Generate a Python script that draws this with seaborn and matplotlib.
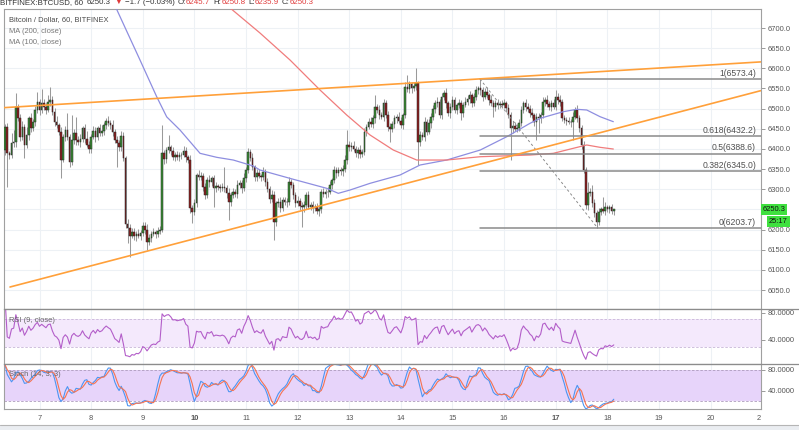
import numpy as np
import pandas as pd
import matplotlib
matplotlib.use("Agg")
import matplotlib.pyplot as plt
import matplotlib.transforms as mtransforms
from matplotlib.lines import Line2D
from matplotlib.patches import Rectangle
import seaborn as sns

# ---------------- data ----------------
start_hour = -16            # first candle, hours from day 7 00:00
first_open = 6397
closes = [
    6455, 6390, 6385, 6415, 6418, 6505, 6476, 6430, 6455, 6410, 6435, 6476, 6451, 6467, 6497, 6517,
    6497, 6513, 6505, 6497, 6517, 6521, 6492, 6468, 6460, 6443, 6373, 6430, 6447, 6430, 6368, 6422, 6440, 6422, 6416, 6425,
    6451, 6425, 6411, 6399, 6430, 6445, 6430, 6451, 6440, 6445, 6459, 6470, 6464, 6459, 6443, 6422, 6414, 6404, 6432, 6377,
    6215, 6205, 6185, 6195, 6183, 6190, 6185, 6192, 6210, 6200, 6170, 6180, 6190, 6193, 6190, 6197, 6200, 6389, 6375, 6397,
    6404, 6395, 6381, 6384, 6380, 6384, 6386, 6395, 6379, 6373, 6253, 6244, 6265, 6335, 6330, 6333, 6306, 6286, 6323, 6318,
    6327, 6302, 6307, 6305, 6303, 6306, 6302, 6290, 6269, 6286, 6292, 6289, 6311, 6315, 6302, 6327, 6348, 6393, 6378, 6354,
    6331, 6340, 6333, 6330, 6344, 6319, 6300, 6277, 6286, 6219, 6265, 6269, 6253, 6273, 6269, 6268, 6319, 6310, 6286, 6265,
    6272, 6258, 6255, 6262, 6286, 6257, 6260, 6253, 6257, 6246, 6250, 6294, 6288, 6292, 6294, 6311, 6323, 6348, 6340, 6348,
    6345, 6350, 6373, 6410, 6405, 6408, 6400, 6389, 6397, 6387, 6393, 6443, 6455, 6468, 6462, 6476, 6505, 6497, 6484, 6480,
    6514, 6484, 6455, 6450, 6462, 6476, 6480, 6470, 6460, 6484, 6554, 6548, 6560, 6550, 6555, 6563, 6418, 6435, 6430, 6468,
    6443, 6464, 6480, 6500, 6513, 6517, 6484, 6530, 6538, 6513, 6488, 6505, 6521, 6497, 6509, 6513, 6488, 6509, 6517, 6525,
    6534, 6513, 6530, 6546, 6550, 6545, 6530, 6542, 6534, 6521, 6513, 6505, 6514, 6508, 6512, 6510, 6514, 6502, 6484, 6452,
    6458, 6450, 6452, 6464, 6497, 6513, 6505, 6500, 6490, 6484, 6468, 6480, 6476, 6484, 6517, 6521, 6512, 6505, 6513, 6505,
    6530, 6522, 6517, 6476, 6472, 6470, 6468, 6466, 6480, 6497, 6476, 6451, 6410, 6348, 6261, 6290, 6294, 6265, 6240, 6219,
    6244, 6250, 6246, 6257, 6250, 6255, 6245.7, 6250.3,
]
up_wick = [
    8, 10, 6, 25, 30, 12, 6, 10, 14, 8, 20, 6, 12, 8, 10, 15, 6, 8, 12, 10,
    18, 6, 10, 9, 14, 5, 12, 8, 10, 15, 8, 6, 10, 25, 9, 12, 7, 10, 20, 8,
    6, 12, 9, 7, 10, 14, 8, 6, 11, 9, 12, 7, 10, 8, 13, 9, 6, 11, 8, 10,
    9, 7, 12, 6, 10, 8, 14, 9, 7, 11, 6, 10, 8, 12, 9, 7, 10, 6, 11, 8,
    10, 8, 6, 12, 9, 7, 11, 8, 10, 6, 13, 9, 7, 10, 8, 12, 6, 9, 11, 7,
    8, 10, 7, 9, 12, 6, 10, 8, 11, 7, 9, 13, 6, 10, 8, 12, 7, 9, 10, 6,
    11, 7, 9, 8, 12, 10, 6, 9, 11, 8, 7, 10, 12, 6, 9, 8, 11, 7, 10, 9,
    7, 10, 8, 12, 6, 9, 11, 7, 10, 8, 12, 9, 6, 10, 7, 11, 8, 9, 12, 6,
    10, 8, 11, 7, 9, 12, 6, 10, 8, 9, 11, 7, 10, 6, 12, 8, 9, 7, 11, 10,
    8, 9, 7, 12, 10, 6, 11, 8, 9, 7, 10, 12, 6, 9, 8, 11, 7, 10, 8, 9,
    9, 11, 6, 10, 8, 12, 7, 9, 10, 8, 6, 11, 9, 7, 12, 8, 10, 6, 9, 11,
    7, 10, 9, 8, 11, 6, 12, 9, 7, 10, 8, 9, 11, 6, 10, 7, 12, 8, 9, 10,
    10, 7, 12, 8, 9, 11, 6, 10, 8, 7, 11, 9, 12, 6, 8, 10, 7, 9, 11, 8,
    9, 8, 10, 7, 12, 6, 11, 9, 8, 10, 7, 12, 9, 6, 11, 8, 10, 7, 9, 12,
    4, 6, 8, 5,
]
down_wick = [
    12, 8, 10, 7, 9, 14, 6, 11, 8, 10, 7, 13, 9, 6, 10, 8, 12, 7, 9, 11,
    6, 10, 8, 12, 7, 9, 11, 6, 10, 8, 13, 7, 9, 12, 6, 10, 8, 11, 7, 9,
    10, 6, 12, 8, 9, 7, 11, 10, 6, 9, 12, 8, 7, 10, 9, 6, 11, 8, 12, 7,
    9, 11, 7, 10, 8, 12, 6, 9, 11, 7, 10, 8, 9, 6, 12, 10, 7, 9, 8, 11,
    7, 9, 10, 6, 11, 8, 12, 7, 9, 10, 6, 8, 11, 9, 7, 12, 10, 6, 9, 8,
    11, 7, 9, 12, 6, 10, 8, 9, 11, 7, 12, 6, 10, 8, 9, 7, 11, 10, 6, 9,
    8, 12, 7, 10, 9, 6, 11, 8, 10, 7, 9, 12, 6, 8, 11, 10, 7, 9, 8, 12,
    10, 6, 9, 11, 7, 8, 12, 10, 6, 9, 11, 7, 10, 8, 12, 6, 9, 11, 7, 10,
    9, 11, 6, 8, 12, 10, 7, 9, 11, 6, 8, 10, 12, 7, 9, 6, 11, 8, 10, 9,
    7, 10, 12, 6, 9, 11, 8, 7, 10, 12, 6, 9, 8, 11, 7, 10, 9, 6, 12, 8,
    11, 8, 7, 10, 9, 12, 6, 11, 8, 9, 10, 7, 12, 8, 6, 9, 11, 10, 7, 8,
    9, 12, 10, 6, 8, 11, 7, 9, 12, 10, 6, 8, 9, 11, 7, 10, 12, 6, 9, 8,
    6, 9, 11, 8, 10, 7, 12, 6, 9, 11, 8, 10, 7, 9, 12, 6, 8, 11, 10, 7,
    8, 10, 7, 12, 9, 6, 10, 8, 11, 7, 9, 12, 6, 10, 8, 11, 7, 9, 6, 10,
    7, 9, 6, 8,
]
high_marks = {-11: 6538, -1: 6542, 1: 6549, 5: 6554, 13: 6489, 15: 6484, 17: 6480, 57: 6459,
              60: 6435, 86: 6356, 97: 6402, 139: 6356, 143: 6447, 156: 6534, 171: 6583,
              175: 6600, 205: 6573.4, 240: 6546, 255: 6319, 257: 6310, 262: 6282, 267: 6250.8}
low_marks = {-15: 6306, -7: 6377, 10: 6327, 36: 6356, 41: 6167, 42: 6133, 50: 6150, 71: 6216,
             81: 6257, 88: 6224, 109: 6174, 122: 6207, 163: 6418, 176: 6360, 196: 6472,
             211: 6480, 219: 6373, 231: 6422, 232: 6440, 248: 6422, 259: 6203.7, 267: 6235.9}

ma100_day = [8.424, 8.501, 8.947, 9.270, 9.464, 9.722, 10.110, 10.433, 10.754, 11.142, 11.271,
             11.917, 12.564, 12.788, 13.015, 13.403, 13.984, 14.371, 14.888, 15.538, 16.051,
             16.502, 16.696, 17.147, 17.407, 17.601, 17.859, 18.116]
ma100_val = [6769.5, 6744.6, 6620.6, 6529.6, 6479.6, 6446.9, 6389.1, 6379.2, 6372.5, 6357.6, 6347.7,
             6324.7, 6302.3, 6289.9, 6298.1, 6314.7, 6335.3, 6360.1, 6372.5, 6397.3, 6430.3,
             6463.6, 6475.9, 6492.4, 6498.3, 6496.6, 6480.0, 6467.6]
ma200_day = [10.497, 10.723, 11.271, 11.853, 12.434, 12.951, 13.403, 13.854, 14.307, 14.888,
             15.538, 16.502, 16.953, 17.341, 17.601, 17.859, 18.116]
ma200_val = [6769.5, 6746.4, 6687.6, 6620.6, 6546.2, 6484.2, 6434.6, 6397.3, 6372.5, 6372.5,
             6380.7, 6384.9, 6389.1, 6401.6, 6409.8, 6404.0, 6399.8]

upper_trend_day = [6.235, 20.971]
upper_trend_val = [6501.8, 6615.9]
lower_trend_day = [6.4285, 20.971]
lower_trend_val = [6057.5, 6544.5]

fib_ratios = ["1", "0.618", "0.5", "0.382", "0"]
fib_prices = [6573.4, 6432.2, 6388.6, 6345.0, 6203.7]
fib_start_day = 15.533
fib_diag_day = [15.533, 17.813]
fib_diag_val = [6573.4, 6203.7]

price_ticks = [6050, 6100, 6150, 6200, 6250, 6300, 6350, 6400, 6450, 6500, 6550, 6600, 6650, 6700]
hidden_tick = 6250          # covered by the last-price tag
day_ticks = [7, 8, 9, 10, 11, 12, 13, 14, 15, 16, 17, 18, 19, 20]
day_labels = ["7", "8", "9", "10", "11", "12", "13", "14", "15", "16", "17", "18", "19", "20"]
bold_days = ["10", "17"]
last_price = 6250.3
countdown = "25:17"
header = [("BITFINEX:BTCUSD, 60", "#333333"), ("6250.3", "#333333"), ("▼", "#e03a3a"),
          ("−1.7 (−0.03%)", "#333333"), ("O:", "#333333"), ("6245.7", "#e03a3a"),
          ("H:", "#333333"), ("6250.8", "#e03a3a"), ("L:", "#333333"), ("6235.9", "#e03a3a"),
          ("C:", "#333333"), ("6250.3", "#e03a3a")]
header_gap_after = [4, 3, 3, 3, 0, 3, 0, 3, 0, 3, 0, 0]

# ---------------- derived frame ----------------
n = len(closes)
hours = np.arange(start_hour, start_hour + n)
days = 7 + hours / 24.0
c = np.array(closes, dtype=float)
o = np.concatenate([[first_open], c[:-1]])
hi = np.maximum(o, c) + np.array(up_wick, dtype=float)
lo = np.minimum(o, c) - np.array(down_wick, dtype=float)
for h, v in high_marks.items():
    hi[h - start_hour] = v
for h, v in low_marks.items():
    lo[h - start_hour] = v
df = pd.DataFrame({"day": days, "open": o, "high": hi, "low": lo, "close": c})

delta = df["close"] - df["open"]
gain = delta.clip(lower=0).ewm(alpha=1 / 9, adjust=True, min_periods=1).mean()
loss = (-delta.clip(upper=0)).ewm(alpha=1 / 9, adjust=True, min_periods=1).mean()
df["rsi"] = 100 - 100 / (1 + gain / loss)
ll = df["low"].rolling(14, min_periods=1).min()
hh = df["high"].rolling(14, min_periods=1).max()
kraw = 100 * (df["close"] - ll) / (hh - ll)
df["k"] = kraw.rolling(3, min_periods=1).mean()
df["d"] = df["k"].rolling(3, min_periods=1).mean()

# ---------------- style ----------------
sns.set_theme(style="white")
plt.rcParams["font.family"] = ["Liberation Sans", "DejaVu Sans"]
FS = 5.4
TXT = "#555555"
GRID = "#edf1f5"

W, H = 799, 430
fig = plt.figure(figsize=(W / 100, H / 100), dpi=100)
fig.patch.set_facecolor("white")


def fx(px):
    return px / W


def fy(py):
    return 1 - py / H


XL, XR = 3.5, 760.7
xlim = (6.3026, 20.971)
ax = fig.add_axes([fx(XL), fy(309.3), fx(XR - XL), (309.3 - 9.3) / H])
ar = fig.add_axes([fx(XL), fy(364), fx(XR - XL), (364 - 309.3) / H])
ak = fig.add_axes([fx(XL), fy(409), fx(XR - XL), (409 - 364) / H])

for a in (ax, ar, ak):
    a.set_xlim(*xlim)
    a.set_facecolor("white")
    for s in a.spines.values():
        s.set_color("#a0a0a0")
        s.set_linewidth(0.8)
    for d in day_ticks:
        a.axvline(d, color=GRID, lw=0.8, zorder=0)
    a.set_xticks([])
    a.grid(False)

ax.set_ylim(6002.2, 6746.4)
ar.set_ylim(4.6, 84.7)
ak.set_ylim(4.5, 91.6)

for p in price_ticks:
    ax.axhline(p, color=GRID, lw=0.8, zorder=0)

# ---- candles ----
ax.vlines(df["day"], df["low"], df["high"], color="#9a9a9a", lw=0.75, zorder=2)
up = df["close"] >= df["open"]
bw = 0.72 / 24
for mask, col in ((up, "#3a8f35"), (~up, "#8e1f1f")):
    sub = df[mask]
    bottoms = np.minimum(sub["open"], sub["close"])
    heights = np.maximum(np.abs(sub["close"] - sub["open"]), 1.2)
    ax.bar(sub["day"], heights, bottom=bottoms, width=bw, color=col,
           edgecolor="#262626", linewidth=0.35, zorder=3)

# ---- moving averages and trend lines ----
sns.lineplot(x=ma100_day, y=ma100_val, ax=ax, color="#8e8ee0", lw=0.9, sort=False, zorder=4)
sns.lineplot(x=ma200_day, y=ma200_val, ax=ax, color="#f07c7c", lw=0.9, sort=False, zorder=4)
sns.lineplot(x=upper_trend_day, y=upper_trend_val, ax=ax, color="#ffa03a", lw=1.2, sort=False, zorder=5)
sns.lineplot(x=lower_trend_day, y=lower_trend_val, ax=ax, color="#ffa03a", lw=1.2, sort=False, zorder=5)

# ---- fibonacci ----
for r, p in zip(fib_ratios, fib_prices):
    ax.plot([fib_start_day, xlim[1]], [p, p], color="#8a8a8a", lw=1.1, zorder=4)
    ax.text(20.88, p + 3, f"{r}({p:.1f})", ha="right", va="bottom", fontsize=6.2,
            color="#505050", zorder=6)
ax.plot(fib_diag_day, fib_diag_val, color="#8a8a8a", lw=0.7, ls=(0, (2.5, 2.5)), zorder=4)

# ---- price axis ----
ax.yaxis.tick_right()
ax.set_yticks(price_ticks)
ax.set_yticklabels(["" if p == hidden_tick else f"{p:.1f}" for p in price_ticks])
for a in (ax, ar, ak):
    a.tick_params(axis="y", which="both", right=True, left=False, length=3, width=0.6,
                  color="#8a8a8a", pad=2.2, labelsize=FS, labelcolor=TXT)

# price tags
bt = mtransforms.blended_transform_factory(ax.transAxes, ax.transData)
ax.text(1.0025, last_price, f"{last_price:.1f}", transform=bt, ha="left", va="center",
        fontsize=FS, color="#111111", clip_on=False, zorder=10,
        bbox=dict(boxstyle="square,pad=0.25", fc="#3fe03f", ec="none"))
ax.text(1.011, last_price - 31, countdown, transform=bt, ha="left", va="center",
        fontsize=FS, color="#111111", clip_on=False, zorder=10,
        bbox=dict(boxstyle="square,pad=0.25", fc="#3fe03f", ec="none"))

# ---- RSI pane ----
ar.axhspan(30, 70, color="#f4e9fc", zorder=0.5, lw=0)
for v in (30, 70):
    ar.axhline(v, color="#c8b6d8", lw=0.6, ls=(0, (3, 2)), zorder=1)
sns.lineplot(data=df, x="day", y="rsi", ax=ar, color="#b35ec9", lw=0.8, zorder=3)
ar.yaxis.tick_right()
ar.set_yticks([40, 80])
ar.set_yticklabels(["40.0000", "80.0000"])

# ---- Stoch pane ----
ak.axhspan(20, 80, color="#e7d4fa", zorder=0.5, lw=0)
for v in (20, 80):
    ak.axhline(v, color="#ad9bbd", lw=0.6, ls=(0, (3, 2)), zorder=1)
sns.lineplot(data=df, x="day", y="k", ax=ak, color="#4d95f2", lw=0.8, zorder=3)
sns.lineplot(data=df, x="day", y="d", ax=ak, color="#f57352", lw=0.8, zorder=3)
ak.yaxis.tick_right()
ak.set_yticks([40, 80])
ak.set_yticklabels(["40.0000", "80.0000"])
ak.set_xticks(day_ticks)
ak.set_xticklabels(day_labels)
ak.tick_params(axis="x", length=0, pad=4.2, labelsize=FS, labelcolor=TXT, bottom=True)
for t in ak.get_xticklabels():
    if t.get_text() in bold_days:
        t.set_fontweight("bold")
for a in (ax, ar, ak):
    a.set_ylabel("")
    a.set_xlabel("")
fig.text(fx(761), fy(418), "2", ha="right", va="center", fontsize=FS, color=TXT)

# ---- pane labels ----
fig.text(fx(9.3), fy(19.3), "Bitcoin / Dollar, 60, BITFINEX", fontsize=FS, color="#4a4a4a", va="center")
fig.text(fx(9.3), fy(31.3), "MA (200, close)", fontsize=FS, color="#777777", va="center")
fig.text(fx(9.3), fy(42.0), "MA (100, close)", fontsize=FS, color="#777777", va="center")
fig.text(fx(9.3), fy(320.7), "RSI (9, close)", fontsize=FS, color="#666666", va="center")
fig.text(fx(9.3), fy(375.0), "Stoch (14, 3, 3)", fontsize=FS, color="#666666", va="center")

# ---- header (cut at the top edge) ----
renderer = fig.canvas.get_renderer()
xp = 0.0
for (s, col), gap in zip(header, header_gap_after):
    t = fig.text(fx(xp), fy(3.6), s, fontsize=5.7, color=col, va="baseline", ha="left")
    bb = t.get_window_extent(renderer=renderer)
    xp += bb.width + gap

# ---- separators / frame ----
for yy in (309.3, 364):
    fig.add_artist(Line2D([fx(XL), 1], [fy(yy), fy(yy)], color="#8c8c8c", lw=0.9))
fig.add_artist(Line2D([0, 1], [fy(425), fy(425)], color="#b5b5b5", lw=0.8))
fig.add_artist(Rectangle((0, 0), 1, fy(425.4), transform=fig.transFigure, color="#eaedf1", lw=0))

fig.savefig("out.png", dpi=100, facecolor="white")
